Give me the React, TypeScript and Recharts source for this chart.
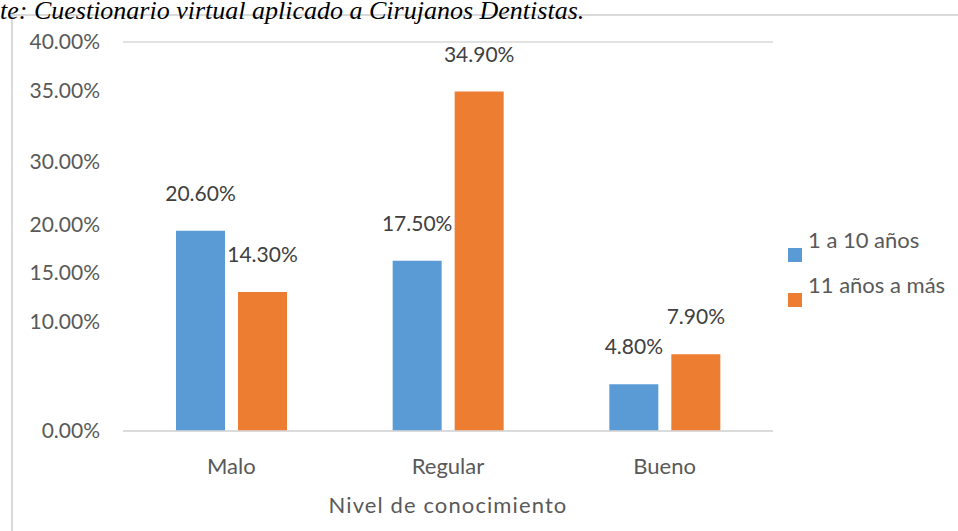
import React from "react"
import { Bar, BarChart, CartesianGrid, LabelList, Legend, XAxis, YAxis } from "recharts"

const niveles = ["Malo", "Regular", "Bueno"]
const anios1a10 = [20.6, 17.5, 4.8]
const anios11aMas = [14.3, 34.9, 7.9]
const gridValues = [0, 5, 10, 15, 20, 25, 30, 35, 40]
// the source figure prints its axis labels a little off the gridlines
const yTickValues = [0, 11.3, 16.3, 21.2, 27.7, 35, 40]
const yTickLabels = ["0.00%", "10.00%", "15.00%", "20.00%", "30.00%", "35.00%", "40.00%"]

const AZUL = "#5B9BD5"
const NARANJA = "#ED7D31"
const GRIS = "#595959"

const data = niveles.map((nivel, i) => ({
  nivel,
  a: anios1a10[i],
  b: anios11aMas[i],
}))

const pct = (v: unknown) => `${Number(v).toFixed(2)}%`

function LeyendaItems() {
  const items = [
    { label: "1 a 10 años", color: AZUL },
    { label: "11 años a más", color: NARANJA },
  ]
  return (
    <div style={{ position: "relative", width: 172, height: 90 }}>
      {items.map((it, i) => (
        <div key={it.label}>
          <div
            style={{
              position: "absolute",
              left: 2,
              top: 20 + i * 45,
              width: 14,
              height: 14,
              background: it.color,
            }}
          />
          <div
            style={{
              position: "absolute",
              left: 22,
              top: 1 + i * 45,
              fontSize: 22,
              lineHeight: "22px",
              color: GRIS,
              whiteSpace: "nowrap",
            }}
          >
            {it.label}
          </div>
        </div>
      ))}
    </div>
  )
}

export default function App() {
  return (
    <div
      style={{
        position: "absolute",
        left: 0,
        top: 0,
        width: 958,
        height: 531,
        background: "#fff",
        fontFamily: "Lato, sans-serif",
        overflow: "hidden",
      }}
    >
      <div style={{ position: "absolute", left: 12, top: 14, width: 946, height: 2, background: "#d9d9d9" }} />
      <div style={{ position: "absolute", left: 11, top: 14, width: 2, height: 517, background: "#d9d9d9" }} />

      <BarChart
        width={958}
        height={531}
        data={data}
        margin={{ top: 42, right: 185, left: 0, bottom: 0 }}
        barSize={49}
        barGap={13}
      >
        <CartesianGrid yAxisId="grid" vertical={false} stroke="#d9d9d9" strokeWidth={1.5} />
        <XAxis
          dataKey="nivel"
          height={100}
          tickLine={false}
          axisLine={{ stroke: "#d9d9d9", strokeWidth: 1.5 }}
          tickSize={0}
          tickMargin={27}
          tick={{ fill: GRIS, fontSize: 22 }}
          label={{
            value: "Nivel de conocimiento",
            position: "insideBottom",
            offset: 18,
            fill: GRIS,
            fontSize: 22,
            letterSpacing: 1.1,
          }}
        />
        <YAxis
          yAxisId="main"
          width={123}
          domain={[0, 40]}
          ticks={yTickValues}
          interval={0}
          axisLine={false}
          tickLine={false}
          tickSize={0}
          tickMargin={23}
          tick={{ fill: GRIS, fontSize: 21 }}
          tickFormatter={(v: number) => yTickLabels[yTickValues.indexOf(v)] ?? ""}
        />
        <YAxis yAxisId="grid" hide width={0} domain={[0, 40]} ticks={gridValues} />
        <Legend
          layout="horizontal"
          align="center"
          verticalAlign="middle"
          content={() => <LeyendaItems />}
          wrapperStyle={{ left: 786, top: 228, width: 172, height: 90 }}
        />
        <Bar yAxisId="main" dataKey="a" name="1 a 10 años" fill={AZUL} isAnimationActive={false}>
          <LabelList dataKey="a" position="top" offset={30} formatter={pct} fill="#404040" fontSize={21} />
        </Bar>
        <Bar yAxisId="main" dataKey="b" name="11 años a más" fill={NARANJA} isAnimationActive={false}>
          <LabelList dataKey="b" position="top" offset={30} formatter={pct} fill="#404040" fontSize={21} />
        </Bar>
      </BarChart>

      <div
        style={{
          position: "absolute",
          left: 0,
          top: -2,
          fontFamily: "'Liberation Serif', serif",
          fontStyle: "italic",
          fontSize: 26,
          lineHeight: "26px",
          color: "#000",
          whiteSpace: "nowrap",
        }}
      >
        te: Cuestionario virtual aplicado a Cirujanos Dentistas.
      </div>
    </div>
  )
}
